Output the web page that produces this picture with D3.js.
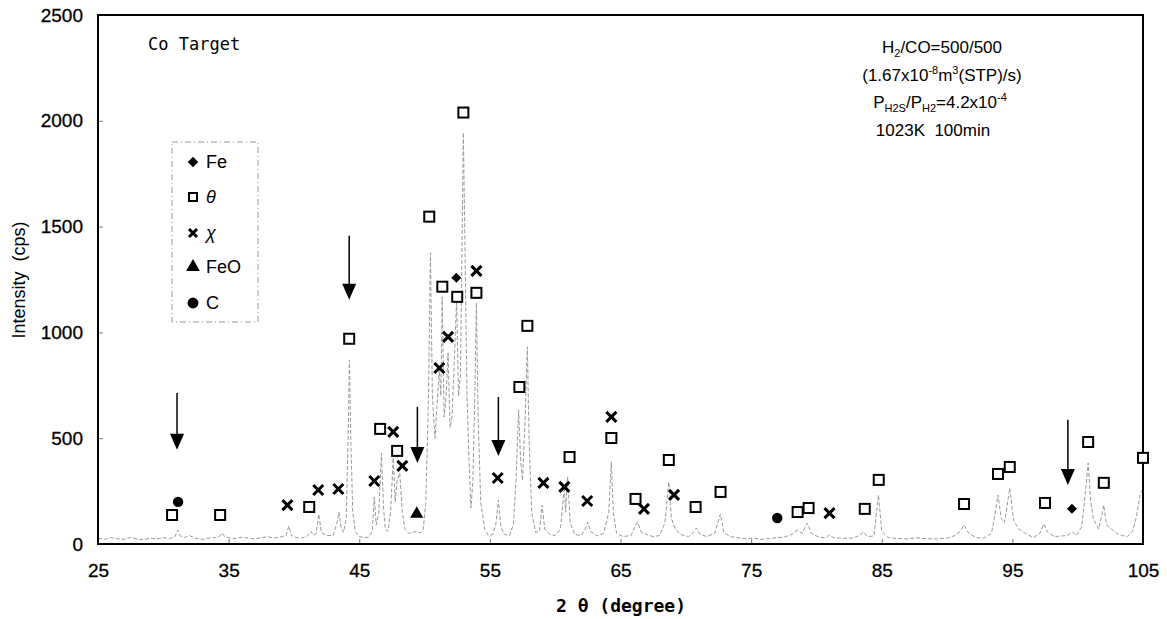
<!DOCTYPE html>
<html>
<head>
<meta charset="utf-8">
<script src="https://cdn.jsdelivr.net/npm/d3@7"></script>
<style>
  body { margin: 0; background: #fff; }
  svg { display: block; }
</style>
</head>
<body>
<svg id="xrd" width="1167" height="619"></svg>
<script>
// XRD pattern, Co target, 2theta vs intensity

var xTicks = [25, 35, 45, 55, 65, 75, 85, 95, 105];
var yTicks = [0, 500, 1000, 1500, 2000, 2500];

// measured trace [2theta, cps]
var trace = [
  [25.0,28],[25.5,22],[26.0,30],[26.5,25],[27.0,22],[27.5,30],[28.0,24],[28.5,20],[29.0,28],[29.5,24],
  [30.0,30],[30.5,26],[30.9,35],[31.1,66],[31.3,38],[31.6,30],[32.0,40],[32.4,28],[33.0,22],[33.5,28],
  [34.0,30],[34.3,36],[34.5,52],[34.7,35],[35.0,30],[35.5,26],[36.0,32],[36.5,28],[37.0,24],[37.5,30],
  [38.0,34],[38.5,28],[39.0,34],[39.4,40],[39.6,85],[39.8,40],[40.2,30],[40.6,28],[41.0,36],[41.3,60],
  [41.5,40],[41.7,50],[41.9,142],[42.1,55],[42.5,40],[43.0,40],[43.3,100],[43.45,151],[43.6,80],[43.8,55],
  [44.0,120],[44.15,500],[44.25,870],[44.35,500],[44.5,150],[44.7,60],[45.0,35],[45.4,30],[45.7,32],[46.0,60],
  [46.15,222],[46.3,90],[46.5,150],[46.7,430],[46.85,180],[47.0,70],[47.2,60],[47.4,150],[47.6,407],[47.75,200],
  [47.9,300],[48.1,336],[48.3,150],[48.5,70],[48.8,50],[49.1,55],[49.4,60],[49.7,52],[49.9,70],[50.1,200],
  [50.3,700],[50.45,1376],[50.6,700],[50.8,500],[50.95,650],[51.13,823],[51.25,700],[51.35,1168],[51.5,600],[51.65,700],
  [51.8,903],[51.95,550],[52.1,600],[52.3,900],[52.45,1154],[52.6,700],[52.75,800],[52.97,1944],[53.1,1376],[53.25,700],
  [53.4,400],[53.55,170],[53.7,300],[53.85,700],[53.97,1140],[54.1,600],[54.3,200],[54.6,70],[54.9,40],[55.2,45],
  [55.45,90],[55.65,208],[55.85,80],[56.1,45],[56.5,40],[56.8,90],[57.0,300],[57.2,634],[57.35,400],[57.5,300],
  [57.7,600],[57.87,932],[58.0,500],[58.2,150],[58.5,55],[58.8,60],[59.0,184],[59.2,70],[59.6,45],[60.0,40],
  [60.4,70],[60.7,270],[60.8,150],[60.95,317],[61.15,100],[61.5,45],[62.0,40],[62.3,70],[62.5,104],[62.7,60],
  [63.2,38],[63.7,50],[64.1,150],[64.3,388],[64.45,150],[64.7,50],[65.2,35],[65.8,40],[66.1,80],[66.3,104],
  [66.6,55],[67.0,45],[67.5,35],[68.0,40],[68.4,100],[68.7,293],[68.9,120],[69.2,70],[69.6,45],[70.2,35],
  [70.6,55],[70.8,76],[71.1,45],[71.6,35],[72.2,50],[72.65,142],[72.9,55],[73.4,35],[74.0,30],[74.6,25],
  [75.2,28],[75.8,22],[76.4,26],[77.0,30],[77.6,34],[78.1,45],[78.55,66],[78.9,50],[79.3,99],[79.6,50],
  [80.2,32],[80.7,30],[81.0,43],[81.3,30],[82.0,26],[82.8,28],[83.3,40],[83.6,57],[83.9,35],[84.4,38],
  [84.75,232],[85.0,60],[85.5,30],[86.2,26],[87.0,24],[87.6,30],[88.4,25],[89.2,24],[90.0,28],[90.6,40],
  [91.0,60],[91.3,90],[91.6,55],[92.2,30],[92.8,28],[93.4,50],[93.7,150],[93.9,232],[94.15,120],[94.4,100],
  [94.8,265],[95.1,110],[95.5,70],[96.0,50],[96.6,30],[97.1,50],[97.4,95],[97.7,55],[98.2,35],[98.8,38],
  [99.2,40],[99.6,57],[99.9,40],[100.3,80],[100.6,250],[100.8,383],[101.0,200],[101.2,120],[101.6,70],[101.9,150],
  [102.0,184],[102.2,90],[102.6,70],[103.0,50],[103.4,40],[103.8,35],[104.2,60],[104.5,130],[104.8,241],[105.0,260]
];

// peak assignments [2theta, cps]
var feMarks = [[52.43,1258],[99.56,166]];
var thetaMarks = [
  [30.67,137],[34.35,137],[41.17,175],[44.23,970],[46.6,544],[47.9,440],[50.36,1547],[51.36,1216],
  [52.5,1168],[52.97,2039],[53.97,1187],[57.26,742],[57.87,1031],[61.1,411],[64.3,501],[66.15,213],
  [68.7,397],[70.75,175],[72.66,246],[78.56,151],[79.4,170],[83.7,166],[84.77,303],[91.3,189],
  [93.9,331],[94.8,364],[97.5,194],[100.8,482],[102.0,289],[105.0,407]
];
var chiMarks = [
  [39.5,184],[41.86,255],[43.4,260],[46.15,298],[47.6,530],[48.3,369],[51.13,832],[51.8,979],
  [53.97,1291],[55.6,312],[59.1,289],[60.7,270],[62.45,203],[64.3,601],[66.8,166],[69.1,232],[81.0,146]
];
var feoMarks = [[49.4,142]];
var cMarks = [[31.13,199],[77.0,123]];

// arrows [2theta, start cps, tip cps]
var arrows = [[31.05,714,445],[44.23,1457,1154],[49.45,648,383],[55.65,695,416],[99.25,587,279]];

var legendItems = [
  {label: 'Fe', type: 'fe'},
  {label: 'θ', type: 'theta', italic: true},
  {label: 'χ', type: 'chi', italic: true},
  {label: 'FeO', type: 'feo'},
  {label: 'C', type: 'c'}
];

var svg = d3.select('#xrd'),
    plotL = 98, plotR = 1143, plotT = 15, plotB = 544;

var x = d3.scaleLinear().domain([25, 105]).range([plotL, plotR]);
var y = d3.scaleLinear().domain([0, 2500]).range([plotB, plotT]);

// trace
var line = d3.line()
  .x(function(d) { return x(d[0]); })
  .y(function(d) { return y(d[1]); });

svg.append('path')
  .datum(trace)
  .attr('d', line)
  .attr('fill', 'none')
  .attr('stroke', '#999')
  .attr('stroke-width', 1)
  .attr('stroke-dasharray', '4,2');

// axes
var yAxis = svg.append('g')
  .attr('transform', 'translate(' + plotL + ',0)')
  .call(d3.axisLeft(y).tickValues(yTicks).tickFormat(d3.format('d')).tickSize(-5).tickPadding(15));
var xAxis = svg.append('g')
  .attr('transform', 'translate(0,' + plotB + ')')
  .call(d3.axisBottom(x).tickValues(xTicks).tickFormat(d3.format('d')).tickSize(-5).tickPadding(20));

[xAxis, yAxis].forEach(function(a) {
  a.select('.domain').remove();
  a.selectAll('line').attr('stroke', '#777');
  a.selectAll('text')
    .attr('font-family', 'Liberation Sans, Arial, sans-serif')
    .attr('font-size', '19px')
    .attr('fill', '#000')
    .attr('stroke', '#000')
    .attr('stroke-width', 0.3);
});

svg.append('rect')
  .attr('x', plotL).attr('y', plotT)
  .attr('width', plotR - plotL).attr('height', plotB - plotT)
  .attr('fill', 'none')
  .attr('stroke', '#000')
  .attr('stroke-width', 2);

// axis titles
svg.append('text')
  .attr('x', 621).attr('y', 612)
  .attr('text-anchor', 'middle')
  .attr('font-family', 'DejaVu Sans Mono, monospace')
  .attr('font-size', '18px')
  .attr('font-weight', 'bold')
  .attr('xml:space', 'preserve')
  .text('2 θ (degree)');

svg.append('text')
  .attr('transform', 'translate(25,280) rotate(-90)')
  .attr('text-anchor', 'middle')
  .attr('font-family', 'Liberation Sans, Arial, sans-serif')
  .attr('font-size', '18px')
  .attr('xml:space', 'preserve')
  .text('Intensity  (cps)');

svg.append('text')
  .attr('x', 148).attr('y', 50)
  .attr('font-family', 'DejaVu Sans Mono, monospace')
  .attr('font-size', '17px')
  .text('Co Target');

// condition notes
var notes = svg.append('g')
  .attr('font-family', 'Liberation Sans, Arial, sans-serif')
  .attr('font-size', '17px')
  .attr('text-anchor', 'middle');

var n1 = notes.append('text').attr('x', 942).attr('y', 53);
n1.append('tspan').text('H');
n1.append('tspan').attr('dy', 4).attr('font-size', '11px').text('2');
n1.append('tspan').attr('dy', -4).text('/CO=500/500');

var n2 = notes.append('text').attr('x', 942).attr('y', 81);
n2.append('tspan').text('(1.67x10');
n2.append('tspan').attr('dy', -7).attr('font-size', '11px').text('-8');
n2.append('tspan').attr('dy', 7).text('m');
n2.append('tspan').attr('dy', -7).attr('font-size', '11px').text('3');
n2.append('tspan').attr('dy', 7).text('(STP)/s)');

var n3 = notes.append('text').attr('x', 940).attr('y', 108);
n3.append('tspan').text('P');
n3.append('tspan').attr('dy', 4).attr('font-size', '11px').text('H2S');
n3.append('tspan').attr('dy', -4).text('/P');
n3.append('tspan').attr('dy', 4).attr('font-size', '11px').text('H2');
n3.append('tspan').attr('dy', -4).text('=4.2x10');
n3.append('tspan').attr('dy', -7).attr('font-size', '11px').text('-4');

notes.append('text').attr('x', 933).attr('y', 136).attr('xml:space', 'preserve').text('1023K  100min');

// markers
function drawMark(g, type, px, py, s) {
  s = s || 1;
  if (type === 'theta') {
    g.append('rect')
      .attr('x', px - 5 * s).attr('y', py - 5 * s)
      .attr('width', 10 * s).attr('height', 10 * s)
      .attr('fill', '#fff').attr('stroke', '#000').attr('stroke-width', 2);
  } else if (type === 'chi') {
    var r = 5 * s;
    g.append('path')
      .attr('d', 'M' + (px - r) + ',' + (py - r) + 'L' + (px + r) + ',' + (py + r) +
                 'M' + (px - r) + ',' + (py + r) + 'L' + (px + r) + ',' + (py - r))
      .attr('stroke', '#000').attr('stroke-width', 3);
  } else if (type === 'fe') {
    g.append('path')
      .attr('d', d3.symbol().type(d3.symbolSquare).size(50 * s * s))
      .attr('transform', 'translate(' + px + ',' + py + ') rotate(45)')
      .attr('fill', '#000');
  } else {
    var sym = {feo: d3.symbolTriangle, c: d3.symbolCircle}[type];
    var size = {feo: 75, c: 85}[type] * s * s;
    g.append('path')
      .attr('d', d3.symbol().type(sym).size(size))
      .attr('transform', 'translate(' + px + ',' + py + ')')
      .attr('fill', '#000');
  }
}

var marks = svg.append('g');
[['fe', feMarks], ['theta', thetaMarks], ['chi', chiMarks], ['feo', feoMarks], ['c', cMarks]].forEach(function(set) {
  set[1].forEach(function(d) {
    drawMark(marks, set[0], x(d[0]), y(d[1]));
  });
});

// arrows
var arr = svg.append('g');
arrows.forEach(function(d) {
  var ax = x(d[0]), y0 = y(d[1]), y1 = y(d[2]);
  arr.append('line')
    .attr('x1', ax).attr('x2', ax)
    .attr('y1', y0).attr('y2', y1 - 12)
    .attr('stroke', '#000').attr('stroke-width', 1.5);
  arr.append('path')
    .attr('d', 'M' + (ax - 7) + ',' + (y1 - 16) + 'L' + (ax + 7) + ',' + (y1 - 16) + 'L' + ax + ',' + y1 + 'Z')
    .attr('fill', '#000');
});

// legend
var legend = svg.append('g');
legend.append('rect')
  .attr('x', 172).attr('y', 142)
  .attr('width', 86).attr('height', 180)
  .attr('fill', '#fff')
  .attr('stroke', '#999')
  .attr('stroke-width', 1)
  .attr('stroke-dasharray', '6,3,1,3');

var legendY = [162, 197, 233, 267, 303];
legendItems.forEach(function(d, i) {
  drawMark(legend, d.type, 193, legendY[i], d.type === 'fe' || d.type === 'feo' || d.type === 'c' ? 1.05 : 0.8);
  legend.append('text')
    .attr('x', 206).attr('y', legendY[i] + 6)
    .attr('font-family', 'Liberation Sans, Arial, sans-serif')
    .attr('font-size', '18px')
    .attr('font-style', d.italic ? 'italic' : 'normal')
    .text(d.label);
});
</script>
</body>
</html>
